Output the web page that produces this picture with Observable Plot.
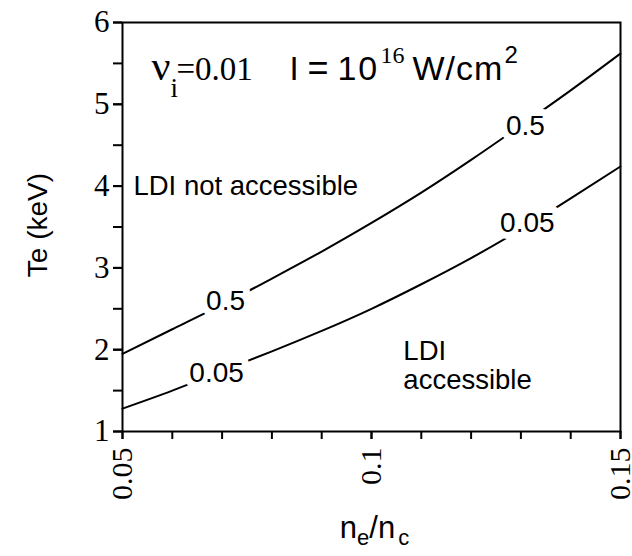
<!DOCTYPE html>
<html>
<head>
<meta charset="utf-8">
<script src="https://cdn.jsdelivr.net/npm/d3@7"></script>
<script src="https://cdn.jsdelivr.net/npm/@observablehq/plot@0.6"></script>
<style>
  html, body { margin: 0; padding: 0; background: #fff; }
  #chart svg { display: block; }
</style>
</head>
<body>
<div id="chart"></div>
<script>
// ---- data ----
const xTickValues = [0.05, 0.06, 0.07, 0.08, 0.09, 0.10, 0.11, 0.12, 0.13, 0.14, 0.15];
const xTickLabels = [0.05, 0.1, 0.15];
const yTickValues = [1, 1.5, 2, 2.5, 3, 3.5, 4, 4.5, 5, 5.5, 6];
const yTickLabels = [1, 2, 3, 4, 5, 6];

// electron density ratio n_e/n_c and contour temperatures T_e (keV)
const nRatio = [0.05, 0.06, 0.07, 0.08, 0.09, 0.10, 0.11, 0.12, 0.13, 0.14, 0.15];
const teLevel05 = [1.95, 2.25, 2.55, 2.87, 3.20, 3.55, 3.92, 4.32, 4.74, 5.17, 5.62];
const teLevel005 = [1.28, 1.50, 1.74, 1.98, 2.23, 2.50, 2.80, 3.12, 3.47, 3.85, 4.24];

// contour labels
const contourLabelText = ["0.5", "0.5", "0.05", "0.05"];
const contourLabelX = [0.0707, 0.1309, 0.0689, 0.1313];
const contourLabelY = [2.60, 4.74, 1.72, 3.55];

// region annotations
const noteText = ["LDI not accessible", "LDI", "accessible"];
const noteX = [0.0522, 0.1064, 0.1064];
const noteY = [4.0, 1.98, 1.63];

const headerX = 0.0558;
const headerY = 5.42;

const xTitle = "ne/nc";
const yTitle = "Te (keV)";

// ---- build tables ----
const curves = [];
nRatio.forEach((n, i) => curves.push({level: "0.5", x: n, y: teLevel05[i]}));
nRatio.forEach((n, i) => curves.push({level: "0.05", x: n, y: teLevel005[i]}));
const clabels = contourLabelText.map((t, i) => ({t, x: contourLabelX[i], y: contourLabelY[i]}));
const notes = noteText.map((t, i) => ({t, x: noteX[i], y: noteY[i]}));

const SERIF = "'Liberation Serif', 'Times New Roman', serif";
const SANS = "'Liberation Sans', Arial, Helvetica, sans-serif";

const chart = Plot.plot({
  width: 632,
  height: 556,
  marginLeft: 122,
  marginRight: 12,
  marginTop: 22,
  marginBottom: 125,
  style: {background: "#fff", color: "#000"},
  x: {type: "linear", domain: [0.05, 0.15]},
  y: {type: "linear", domain: [1, 6]},
  marks: [
    Plot.axisX({ticks: xTickValues, tickSize: 8, strokeWidth: 2, tickFormat: () => "", label: null}),
    Plot.axisX({ticks: xTickLabels, tickSize: 8, strokeWidth: 2, tickPadding: 8, tickRotate: -90,
      tickFormat: d => String(+d.toFixed(2)), fontFamily: SERIF, fontSize: 30, label: null}),
    Plot.axisY({ticks: yTickValues, tickSize: 9, strokeWidth: 2, tickFormat: () => "", label: null}),
    Plot.axisY({ticks: yTickLabels, tickSize: 9, strokeWidth: 2, tickPadding: 4,
      tickFormat: d => String(d), fontFamily: SERIF, fontSize: 31, label: null}),
    Plot.line(curves, {x: "x", y: "y", z: "level", stroke: "#000", strokeWidth: 2, curve: "natural"}),
    Plot.text(clabels, {x: "x", y: "y", text: "t", fill: "#000", stroke: "#fff", strokeWidth: 14,
      paintOrder: "stroke", fontFamily: SANS, fontSize: 28}),
    Plot.text(notes, {x: "x", y: "y", text: "t", textAnchor: "start", fill: "#000",
      fontFamily: SANS, fontSize: 27.5}),
    Plot.text([0], {x: () => headerX, y: () => headerY, text: () => "header", textAnchor: "start",
      fill: "#000", fontFamily: SANS, fontSize: 31, className: "hdr"}),
    Plot.text([xTitle], {frameAnchor: "bottom", dy: 106, dx: 3, text: d => d, fill: "#000",
      fontFamily: SANS, fontSize: 31, className: "xtitle"}),
    Plot.text([yTitle], {frameAnchor: "left", textAnchor: "middle", dx: -84, dy: -2, rotate: -90,
      text: d => d, fill: "#000", fontFamily: SANS, fontSize: 28}),
    Plot.frame({stroke: "#000", strokeWidth: 2})
  ]
});

document.getElementById("chart").appendChild(chart);

// rich text: sub/superscripts via tspans (x offsets relative to the text anchor)
function rich(textEl, parts) {
  const sel = d3.select(textEl);
  sel.text(null);
  let prev = 0;
  for (const p of parts) {
    const ts = sel.append("tspan").text(p.t);
    if (p.size) ts.attr("font-size", p.size);
    if (p.family) ts.attr("font-family", p.family);
    if (p.ls) ts.attr("letter-spacing", p.ls);
    const shift = p.shift || 0;
    if (shift !== prev) ts.attr("dy", shift - prev);
    prev = shift;
    if (p.at != null) ts.attr("x", p.at);
    if (p.dx) ts.attr("dx", p.dx);
  }
}

d3.select(chart).selectAll("g.hdr text").each(function() {
  rich(this, [
    {t: "ν", family: SERIF, size: 42, at: 0},
    {t: "i", family: SERIF, size: 27, shift: 17, at: 19},
    {t: "=0.01", family: SERIF, size: 33, shift: 0, at: 25},
    {t: "I", family: SANS, size: 33, at: 138},
    {t: "=", family: SANS, size: 36, at: 156},
    {t: "10", family: SANS, size: 34, ls: 2, at: 186},
    {t: "16", family: SERIF, size: 24, shift: -17, at: 229},
    {t: "W/cm", family: SANS, size: 34, shift: 0, ls: 1, at: 261},
    {t: "2", family: SANS, size: 24, shift: -17, at: 353}
  ]);
});

d3.select(chart).selectAll("g.xtitle text").each(function() {
  rich(this, [
    {t: "n", size: 31},
    {t: "e", size: 22, shift: 7},
    {t: "/n", size: 31, shift: 0},
    {t: "c", size: 22, shift: 7, dx: 3}
  ]);
});
</script>
</body>
</html>
